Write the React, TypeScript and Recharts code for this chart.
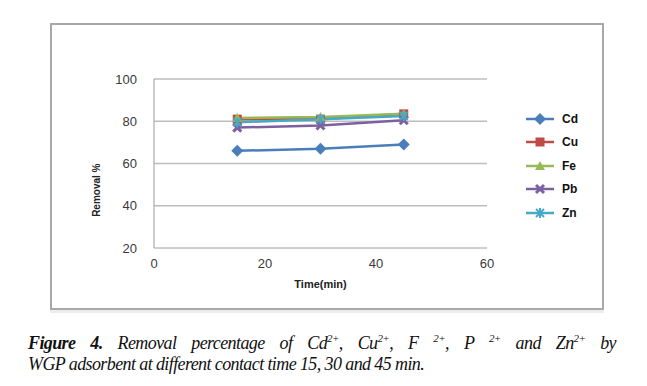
import { CartesianGrid, Line, LineChart, XAxis, YAxis } from 'recharts'

const times = [15, 30, 45]
const cd = [66, 67, 69]
const cu = [81, 81, 83.5]
const fe = [81.5, 82, 83.5]
const pb = [77, 78, 80.5]
const zn = [79.5, 81, 82.5]
const xTicks = [0, 20, 40, 60]
const yTicks = [20, 40, 60, 80, 100]

const data = times.map((t, i) => ({
  t,
  Cd: cd[i],
  Cu: cu[i],
  Fe: fe[i],
  Pb: pb[i],
  Zn: zn[i],
}))

type Shape = 'diamond' | 'square' | 'triangle' | 'cross' | 'star'

const series: { key: string; color: string; shape: Shape }[] = [
  { key: 'Cd', color: '#4a7ebb', shape: 'diamond' },
  { key: 'Cu', color: '#be4b48', shape: 'square' },
  { key: 'Fe', color: '#98b954', shape: 'triangle' },
  { key: 'Pb', color: '#7d60a0', shape: 'cross' },
  { key: 'Zn', color: '#46aac5', shape: 'star' },
]

function Marker({ cx, cy, color, shape }: { cx: number; cy: number; color: string; shape: Shape }) {
  if (cx == null || cy == null) return null
  switch (shape) {
    case 'diamond':
      return <path d={`M${cx},${cy - 6}L${cx + 6},${cy}L${cx},${cy + 6}L${cx - 6},${cy}Z`} fill={color} />
    case 'square':
      return <rect x={cx - 4.5} y={cy - 4.5} width={9} height={9} fill={color} />
    case 'triangle':
      return <path d={`M${cx},${cy - 5}L${cx + 5},${cy + 4}L${cx - 5},${cy + 4}Z`} fill={color} />
    case 'cross':
      return (
        <g stroke={color} strokeWidth={3}>
          <line x1={cx - 4} y1={cy - 4} x2={cx + 4} y2={cy + 4} />
          <line x1={cx - 4} y1={cy + 4} x2={cx + 4} y2={cy - 4} />
        </g>
      )
    default:
      return (
        <g stroke={color} strokeWidth={2}>
          <line x1={cx - 4} y1={cy - 4} x2={cx + 4} y2={cy + 4} />
          <line x1={cx - 4} y1={cy + 4} x2={cx + 4} y2={cy - 4} />
          <line x1={cx} y1={cy - 5} x2={cx} y2={cy + 5} />
        </g>
      )
  }
}

const sans = 'Liberation Sans, Arial, sans-serif'
const tickStyle = { fill: '#3a3a3a', fontSize: 13, fontFamily: sans }
const supStyle = { fontSize: 11 }

function LegendBox() {
  return (
    <div style={{ fontFamily: sans, fontWeight: 700, fontSize: 12 }}>
      {series.map((s) => (
        <div key={s.key} style={{ display: 'flex', alignItems: 'center', height: 23.5 }}>
          <svg width={30} height={14}>
            <line x1={0} y1={7} x2={28} y2={7} stroke={s.color} strokeWidth={2.5} />
            <Marker cx={14} cy={7} color={s.color} shape={s.shape} />
          </svg>
          <span style={{ marginLeft: 6, color: '#111' }}>{s.key}</span>
        </div>
      ))}
    </div>
  )
}

export default function App() {
  return (
    <div style={{ position: 'absolute', left: 0, top: 0, width: 647, height: 386, background: '#fff' }}>
      <div
        style={{
          position: 'absolute',
          left: 50,
          top: 23,
          width: 550,
          height: 283,
          border: '2px solid #a8a8a8',
          boxShadow: '0 3px 0 #ececec',
        }}
      />
      <div style={{ position: 'absolute', left: 0, top: 0 }}>
        <LineChart width={647} height={320} data={data} margin={{ top: 79, right: 160, bottom: 32, left: 104 }}>
          <CartesianGrid vertical={false} stroke="#bdbdbd" strokeWidth={1.5} />
          <XAxis
            type="number"
            dataKey="t"
            domain={[0, 60]}
            ticks={xTicks}
            tickLine={false}
            axisLine={{ stroke: '#d0d0d0' }}
            tickSize={6}
            tickMargin={5}
            tick={tickStyle}
            height={40}
            label={{
              value: 'Time(min)',
              position: 'insideBottom',
              offset: 0,
              style: { fontSize: 11, fontWeight: 700, fill: '#222', fontFamily: sans },
            }}
          />
          <YAxis
            type="number"
            domain={[20, 100]}
            ticks={yTicks}
            tickLine={false}
            axisLine={{ stroke: '#9a9a9a' }}
            tickSize={6}
            tickMargin={11}
            tick={tickStyle}
            width={50}
            label={{
              value: 'Removal %',
              angle: -90,
              position: 'left',
              offset: 8,
              style: { fontSize: 10, fontWeight: 700, fill: '#222', fontFamily: sans },
            }}
          />
          {series.map((s) => (
            <Line
              key={s.key}
              dataKey={s.key}
              stroke={s.color}
              strokeWidth={2.5}
              isAnimationActive={false}
              dot={(p: any) => <Marker key={`${s.key}-${p.index}`} cx={p.cx} cy={p.cy} color={s.color} shape={s.shape} />}
              activeDot={false}
            />
          ))}
        </LineChart>
      </div>
      <div style={{ position: 'absolute', left: 526, top: 107 }}>
        <LegendBox />
      </div>
      <div
        style={{
          position: 'absolute',
          left: 28,
          top: 328,
          width: 588,
          fontFamily: 'Liberation Serif, Times New Roman, serif',
          fontStyle: 'italic',
          fontSize: 18,
          letterSpacing: -0.6,
          lineHeight: '21px',
          color: '#111',
        }}
      >
        <div style={{ textAlign: 'justify', textAlignLast: 'justify' }}>
          <b>Figure 4.</b> Removal percentage of Cd<sup style={supStyle}>2+</sup>, Cu<sup style={supStyle}>2+</sup>, F{' '}
          <sup style={supStyle}>2+</sup>, P <sup style={supStyle}>2+</sup> and Zn<sup style={supStyle}>2+</sup> by
        </div>
        <div>WGP adsorbent at different contact time 15, 30 and 45 min.</div>
      </div>
    </div>
  )
}
